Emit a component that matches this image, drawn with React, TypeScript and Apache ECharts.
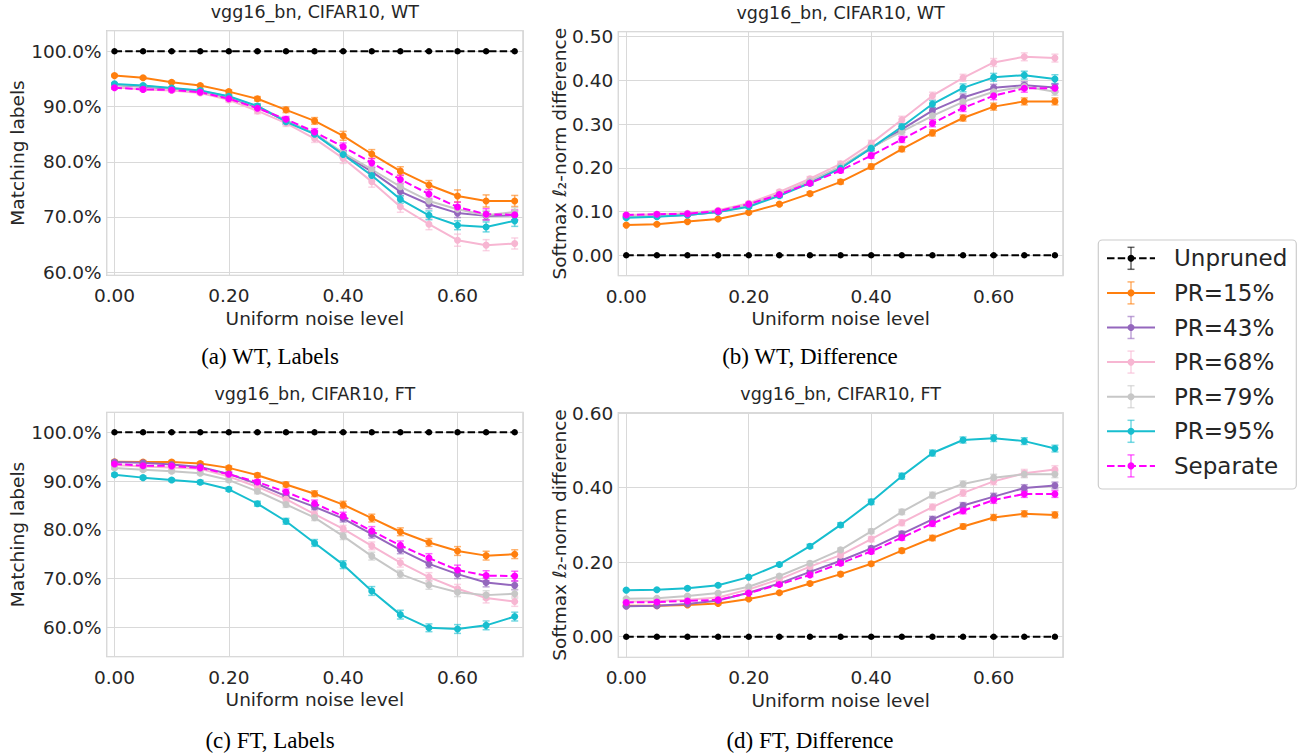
import React, { useEffect, useRef } from 'react';
import * as echarts from 'echarts';

const noiseLevels = [0, 0.05, 0.1, 0.15, 0.2, 0.25, 0.3, 0.35, 0.4, 0.45, 0.5, 0.55, 0.6, 0.65, 0.7];
const seriesNames = ['Unpruned', 'PR=15%', 'PR=43%', 'PR=68%', 'PR=79%', 'PR=95%', 'Separate'];
const seriesColors = ['#000000', '#ff7f0e', '#9467bd', '#f7b6d2', '#c7c7c7', '#17becf', '#ff00ff'];
const seriesDashed = [true, false, false, false, false, false, true];

const zeroErr = [0, 0, 0, 0, 0, 0, 0, 0, 0, 0, 0, 0, 0, 0, 0];

// (a) WT, Labels  (matching labels, %)
const wtLabUnpruned = [100, 100, 100, 100, 100, 100, 100, 100, 100, 100, 100, 100, 100, 100, 100];
const wtLabPR15 = [95.6, 95.2, 94.4, 93.8, 92.7, 91.4, 89.4, 87.4, 84.7, 81.4, 78.3, 75.8, 73.8, 72.9, 72.9];
const wtLabPR43 = [93.9, 93.6, 93.2, 92.75, 91.6, 89.9, 87.4, 85.1, 81.4, 78.2, 74.6, 72.3, 70.7, 70.2, 70.3];
const wtLabPR68 = [93.5, 93.1, 92.9, 92.45, 91.2, 89.2, 87.0, 84.2, 80.6, 76.4, 71.85, 68.7, 65.8, 64.9, 65.2];
const wtLabPR79 = [93.9, 93.7, 93.3, 92.8, 91.8, 90.0, 87.55, 85.1, 81.6, 78.6, 75.5, 72.9, 71.4, 70.3, 70.9];
const wtLabPR95 = [94.1, 93.8, 93.35, 92.9, 91.85, 90.1, 87.25, 85.0, 81.3, 77.5, 73.2, 70.3, 68.5, 68.2, 69.3];
const wtLabSeparate = [93.4, 93.1, 93.0, 92.6, 91.4, 89.7, 87.7, 85.4, 82.7, 79.8, 76.8, 74.15, 71.8, 70.5, 70.4];
const wtLabErrPR15 = [0.2, 0.2, 0.2, 0.2, 0.3, 0.4, 0.5, 0.6, 0.8, 0.8, 0.8, 0.8, 1.1, 1.1, 1.0];
const wtLabErrPR43 = [0.2, 0.2, 0.2, 0.3, 0.3, 0.4, 0.5, 0.5, 0.6, 0.7, 0.8, 0.8, 0.8, 0.8, 0.8];
const wtLabErrPR68 = [0.3, 0.3, 0.3, 0.3, 0.4, 0.5, 0.6, 0.7, 0.9, 1.0, 1.0, 1.0, 1.1, 1.0, 1.0];
const wtLabErrPR79 = [0.2, 0.2, 0.2, 0.3, 0.3, 0.4, 0.5, 0.5, 0.6, 0.7, 0.8, 0.8, 0.8, 0.8, 0.8];
const wtLabErrPR95 = [0.2, 0.2, 0.2, 0.3, 0.3, 0.4, 0.5, 0.5, 0.6, 0.7, 0.7, 0.8, 0.8, 0.9, 1.0];
const wtLabErrSeparate = [0.2, 0.2, 0.3, 0.3, 0.3, 0.4, 0.5, 0.6, 0.7, 0.8, 0.8, 0.8, 0.9, 1.0, 0.9];

// (b) WT, Difference (softmax l2-norm difference)
const wtDiffUnpruned = [0, 0, 0, 0, 0, 0, 0, 0, 0, 0, 0, 0, 0, 0, 0];
const wtDiffPR15 = [0.069, 0.071, 0.077, 0.083, 0.098, 0.117, 0.141, 0.168, 0.203, 0.243, 0.280, 0.314, 0.340, 0.352, 0.352];
const wtDiffPR43 = [0.088, 0.089, 0.092, 0.099, 0.113, 0.139, 0.167, 0.200, 0.245, 0.288, 0.331, 0.361, 0.383, 0.389, 0.384];
const wtDiffPR68 = [0.092, 0.094, 0.096, 0.103, 0.119, 0.145, 0.175, 0.209, 0.256, 0.310, 0.365, 0.406, 0.441, 0.454, 0.451];
const wtDiffPR79 = [0.088, 0.090, 0.093, 0.100, 0.115, 0.140, 0.170, 0.203, 0.247, 0.283, 0.319, 0.351, 0.374, 0.386, 0.374];
const wtDiffPR95 = [0.086, 0.088, 0.092, 0.099, 0.111, 0.136, 0.165, 0.199, 0.245, 0.294, 0.346, 0.383, 0.407, 0.412, 0.403];
const wtDiffSeparate = [0.092, 0.094, 0.095, 0.101, 0.117, 0.139, 0.165, 0.194, 0.228, 0.265, 0.302, 0.337, 0.365, 0.382, 0.382];
const wtDiffErrPR15 = [0.002, 0.002, 0.002, 0.002, 0.003, 0.003, 0.004, 0.005, 0.006, 0.006, 0.007, 0.007, 0.008, 0.008, 0.008];
const wtDiffErrPR43 = [0.002, 0.002, 0.002, 0.003, 0.003, 0.004, 0.004, 0.005, 0.006, 0.007, 0.007, 0.008, 0.008, 0.008, 0.008];
const wtDiffErrPR68 = [0.003, 0.003, 0.003, 0.003, 0.004, 0.004, 0.005, 0.006, 0.007, 0.008, 0.008, 0.008, 0.009, 0.009, 0.009];
const wtDiffErrPR79 = [0.002, 0.002, 0.002, 0.003, 0.003, 0.004, 0.004, 0.005, 0.006, 0.007, 0.007, 0.008, 0.008, 0.008, 0.008];
const wtDiffErrPR95 = [0.002, 0.002, 0.002, 0.003, 0.003, 0.004, 0.005, 0.005, 0.006, 0.007, 0.008, 0.009, 0.009, 0.009, 0.010];
const wtDiffErrSeparate = [0.002, 0.002, 0.003, 0.003, 0.003, 0.004, 0.004, 0.005, 0.006, 0.007, 0.008, 0.008, 0.009, 0.009, 0.009];

// (c) FT, Labels (matching labels, %)
const ftLabUnpruned = [100, 100, 100, 100, 100, 100, 100, 100, 100, 100, 100, 100, 100, 100, 100];
const ftLabPR15 = [93.95, 93.9, 93.9, 93.6, 92.7, 91.2, 89.3, 87.4, 85.15, 82.4, 79.6, 77.4, 75.65, 74.7, 75.0];
const ftLabPR43 = [93.9, 93.75, 93.4, 92.9, 91.45, 89.4, 86.9, 84.7, 82.3, 79.1, 75.9, 73.0, 70.9, 69.2, 68.6];
const ftLabPR68 = [93.3, 93.0, 92.8, 92.5, 90.9, 88.8, 86.3, 83.2, 80.2, 76.7, 73.25, 70.3, 67.9, 66.0, 65.3];
const ftLabPR79 = [92.7, 92.3, 92.0, 91.6, 90.2, 87.9, 85.2, 82.5, 78.7, 74.6, 70.9, 68.7, 67.2, 66.6, 66.9];
const ftLabPR95 = [91.3, 90.7, 90.2, 89.75, 88.3, 85.35, 81.75, 77.3, 72.85, 67.45, 62.6, 59.9, 59.65, 60.4, 62.2];
const ftLabSeparate = [93.5, 93.15, 93.1, 92.7, 91.4, 89.8, 87.75, 85.4, 82.8, 79.75, 76.8, 74.2, 71.75, 70.6, 70.5];
const ftLabErrPR15 = [0.3, 0.3, 0.3, 0.3, 0.4, 0.4, 0.5, 0.6, 0.7, 0.8, 0.8, 0.8, 0.9, 0.9, 0.9];
const ftLabErrPR43 = [0.3, 0.3, 0.3, 0.3, 0.4, 0.5, 0.5, 0.6, 0.7, 0.8, 0.8, 0.8, 0.9, 0.9, 0.9];
const ftLabErrPR68 = [0.3, 0.3, 0.3, 0.3, 0.4, 0.5, 0.6, 0.6, 0.7, 0.8, 0.9, 0.9, 0.9, 1.0, 1.0];
const ftLabErrPR79 = [0.3, 0.3, 0.3, 0.3, 0.4, 0.5, 0.6, 0.6, 0.7, 0.8, 0.8, 0.9, 0.9, 0.9, 0.9];
const ftLabErrPR95 = [0.3, 0.3, 0.3, 0.4, 0.4, 0.5, 0.6, 0.7, 0.8, 0.9, 0.9, 0.8, 0.9, 0.9, 0.9];
const ftLabErrSeparate = [0.3, 0.3, 0.3, 0.4, 0.4, 0.5, 0.6, 0.7, 0.8, 0.9, 0.9, 0.9, 1.0, 1.0, 1.0];

// (d) FT, Difference (softmax l2-norm difference)
const ftDiffUnpruned = [0, 0, 0, 0, 0, 0, 0, 0, 0, 0, 0, 0, 0, 0, 0];
const ftDiffPR15 = [0.083, 0.083, 0.085, 0.089, 0.101, 0.118, 0.143, 0.168, 0.196, 0.231, 0.265, 0.296, 0.320, 0.330, 0.327];
const ftDiffPR43 = [0.082, 0.083, 0.088, 0.097, 0.118, 0.143, 0.174, 0.204, 0.237, 0.276, 0.315, 0.352, 0.376, 0.399, 0.406];
const ftDiffPR68 = [0.094, 0.096, 0.099, 0.105, 0.127, 0.154, 0.188, 0.219, 0.262, 0.306, 0.348, 0.386, 0.417, 0.439, 0.449];
const ftDiffPR79 = [0.102, 0.103, 0.109, 0.117, 0.134, 0.163, 0.197, 0.233, 0.283, 0.335, 0.380, 0.410, 0.427, 0.436, 0.436];
const ftDiffPR95 = [0.125, 0.126, 0.130, 0.138, 0.160, 0.194, 0.243, 0.300, 0.362, 0.431, 0.493, 0.528, 0.533, 0.525, 0.505];
const ftDiffSeparate = [0.092, 0.093, 0.096, 0.099, 0.117, 0.140, 0.166, 0.197, 0.229, 0.266, 0.304, 0.338, 0.367, 0.383, 0.383];
const ftDiffErrPR15 = [0.002, 0.002, 0.002, 0.003, 0.003, 0.003, 0.004, 0.005, 0.005, 0.006, 0.007, 0.007, 0.008, 0.008, 0.008];
const ftDiffErrPR43 = [0.002, 0.002, 0.002, 0.003, 0.003, 0.004, 0.004, 0.005, 0.006, 0.007, 0.008, 0.008, 0.009, 0.009, 0.009];
const ftDiffErrPR68 = [0.003, 0.003, 0.003, 0.003, 0.004, 0.004, 0.005, 0.006, 0.007, 0.008, 0.008, 0.009, 0.009, 0.010, 0.010];
const ftDiffErrPR79 = [0.002, 0.002, 0.003, 0.003, 0.003, 0.004, 0.005, 0.005, 0.006, 0.007, 0.008, 0.008, 0.009, 0.009, 0.009];
const ftDiffErrPR95 = [0.002, 0.002, 0.003, 0.003, 0.003, 0.004, 0.005, 0.006, 0.007, 0.008, 0.008, 0.008, 0.009, 0.009, 0.009];
const ftDiffErrSeparate = [0.002, 0.002, 0.003, 0.003, 0.003, 0.004, 0.005, 0.005, 0.006, 0.007, 0.008, 0.008, 0.009, 0.009, 0.009];

const TEXT = '#262626';
const FONT = 'DejaVu Sans';

const isMult = (v: number, step: number) => Math.abs(v / step - Math.round(v / step)) < 1e-6;
const fmtPct = (v: number) => (isMult(v, 10) ? (Math.abs(v) < 1e-9 ? 0 : v).toFixed(1) + '%' : '');
const fmtStep = (step: number) => (v: number) => (isMult(v, step) ? (Math.abs(v) < 1e-9 ? 0 : v).toFixed(2) : '');

type Panel = {
  title: string;
  caption: string;
  yName: string;
  left: number;
  top: number;
  width: number;
  height: number;
  xMin: number;
  xMax: number;
  yMin: number;
  yMax: number;
  ySplit: number;
  yFmt: (v: number) => string;
  values: number[][];
  errors: number[][];
  captionX: number;
  yNameX: number;
};

const panels: Panel[] = [
  {
    title: 'vgg16_bn, CIFAR10, WT', caption: '(a) WT, Labels', yName: 'Matching labels',
    left: 106.7, top: 30.7, width: 416.3, height: 244.6,
    xMin: -0.0136, xMax: 0.7145, yMin: 59.44, yMax: 103.73, ySplit: 5, yFmt: fmtPct,
    values: [wtLabUnpruned, wtLabPR15, wtLabPR43, wtLabPR68, wtLabPR79, wtLabPR95, wtLabSeparate],
    errors: [zeroErr, wtLabErrPR15, wtLabErrPR43, wtLabErrPR68, wtLabErrPR79, wtLabErrPR95, wtLabErrSeparate],
    captionX: 270, yNameX: 17.5,
  },
  {
    title: 'vgg16_bn, CIFAR10, WT', caption: '(b) WT, Difference', yName: 'Softmax ℓ₂-norm difference',
    left: 618.3, top: 31.7, width: 444.7, height: 244,
    xMin: -0.013, xMax: 0.7132, yMin: -0.0467, yMax: 0.5114, ySplit: 5, yFmt: fmtStep(0.1),
    values: [wtDiffUnpruned, wtDiffPR15, wtDiffPR43, wtDiffPR68, wtDiffPR79, wtDiffPR95, wtDiffSeparate],
    errors: [zeroErr, wtDiffErrPR15, wtDiffErrPR43, wtDiffErrPR68, wtDiffErrPR79, wtDiffErrPR95, wtDiffErrSeparate],
    captionX: 810, yNameX: 559,
  },
  {
    title: 'vgg16_bn, CIFAR10, FT', caption: '(c) FT, Labels', yName: 'Matching labels',
    left: 106.7, top: 412.3, width: 416.3, height: 244.4,
    xMin: -0.0136, xMax: 0.7145, yMin: 53.97, yMax: 104.1, ySplit: 5, yFmt: fmtPct,
    values: [ftLabUnpruned, ftLabPR15, ftLabPR43, ftLabPR68, ftLabPR79, ftLabPR95, ftLabSeparate],
    errors: [zeroErr, ftLabErrPR15, ftLabErrPR43, ftLabErrPR68, ftLabErrPR79, ftLabErrPR95, ftLabErrSeparate],
    captionX: 270, yNameX: 17.5,
  },
  {
    title: 'vgg16_bn, CIFAR10, FT', caption: '(d) FT, Difference', yName: 'Softmax ℓ₂-norm difference',
    left: 618.3, top: 412.7, width: 444.7, height: 244.6,
    xMin: -0.013, xMax: 0.7132, yMin: -0.0553, yMax: 0.6013, ySplit: 3, yFmt: fmtStep(0.2),
    values: [ftDiffUnpruned, ftDiffPR15, ftDiffPR43, ftDiffPR68, ftDiffPR79, ftDiffPR95, ftDiffSeparate],
    errors: [zeroErr, ftDiffErrPR15, ftDiffErrPR43, ftDiffErrPR68, ftDiffErrPR79, ftDiffErrPR95, ftDiffErrSeparate],
    captionX: 810, yNameX: 559,
  },
];

function buildOption() {
  const grid = panels.map((p) => ({
    left: p.left, top: p.top, width: p.width, height: p.height,
    show: true, borderColor: '#cccccc', borderWidth: 1.25, backgroundColor: '#ffffff', containLabel: false,
  }));
  const xAxis = panels.map((p, i) => ({
    type: 'value', gridIndex: i, min: p.xMin, max: p.xMax, splitNumber: 4,
    axisLine: { show: false }, axisTick: { show: false },
    splitLine: { show: true, lineStyle: { color: '#d9d9d9', width: 1 } },
    axisLabel: { formatter: fmtStep(0.2), fontSize: 18.5, color: TEXT, fontFamily: FONT, margin: 11 },
    name: 'Uniform noise level', nameLocation: 'middle', nameGap: 33.5,
    nameTextStyle: { fontSize: 18.5, color: TEXT, fontFamily: FONT },
  }));
  const yAxis = panels.map((p, i) => ({
    type: 'value', gridIndex: i, min: p.yMin, max: p.yMax, splitNumber: p.ySplit,
    axisLine: { show: false }, axisTick: { show: false },
    splitLine: { show: true, lineStyle: { color: '#d9d9d9', width: 1 } },
    axisLabel: { formatter: p.yFmt, fontSize: 18.5, color: TEXT, fontFamily: FONT, margin: 5 },
  }));

  const series: any[] = [];
  panels.forEach((p, pi) => {
    p.values.forEach((vals, si) => {
      const color = seriesColors[si];
      const errs = p.errors[si];
      const hasErr = errs.some((e) => e > 0);
      if (hasErr) {
        series.push({
          type: 'custom', xAxisIndex: pi, yAxisIndex: pi, silent: true,
          encode: { x: 0, y: 1 },
          data: noiseLevels.map((x, k) => [x, vals[k], vals[k] - errs[k], vals[k] + errs[k]]),
          renderItem: (params: any, api: any) => {
            const x = api.value(0);
            const lo = api.coord([x, api.value(2)]);
            const hi = api.coord([x, api.value(3)]);
            const cw = 3.5;
            const style = { stroke: color, lineWidth: 1.5, opacity: 0.6 };
            return {
              type: 'group',
              children: [
                { type: 'line', shape: { x1: lo[0], y1: lo[1], x2: hi[0], y2: hi[1] }, style },
                { type: 'line', shape: { x1: lo[0] - cw, y1: lo[1], x2: lo[0] + cw, y2: lo[1] }, style },
                { type: 'line', shape: { x1: hi[0] - cw, y1: hi[1], x2: hi[0] + cw, y2: hi[1] }, style },
              ],
            };
          },
        });
      }
      series.push({
        type: 'line', name: seriesNames[si], xAxisIndex: pi, yAxisIndex: pi, silent: true,
        data: noiseLevels.map((x, k) => [x, vals[k]]),
        symbol: 'circle', symbolSize: si === 0 ? 6.5 : 7, showSymbol: true,
        lineStyle: { color, width: 2, type: seriesDashed[si] ? [7.5, 3.2] : 'solid' },
        itemStyle: { color },
      });
    });
  });

  const graphics: any[] = [];
  panels.forEach((p) => {
    const cx = p.left + p.width / 2;
    const cy = p.top + p.height / 2;
    graphics.push({
      type: 'text', x: cx, y: p.top - 18.7,
      style: { text: p.title, fill: TEXT, font: `17.5px "${FONT}"`, align: 'center', verticalAlign: 'middle' },
    });
    graphics.push({
      type: 'text', x: p.yNameX, y: cy, rotation: Math.PI / 2,
      style: { text: p.yName, fill: TEXT, font: `18.5px "${FONT}"`, align: 'center', verticalAlign: 'middle' },
    });
    graphics.push({
      type: 'text', x: p.captionX, y: p.top < 200 ? 356 : 740,
      style: { text: p.caption, fill: '#000000', font: '23px "Liberation Serif"', align: 'center', verticalAlign: 'middle' },
    });
  });

  // legend
  const lgX = 1098.3, lgY = 240, lgW = 198, lgH = 249;
  graphics.push({
    type: 'rect', shape: { x: lgX, y: lgY, width: lgW, height: lgH, r: 4 },
    style: { fill: 'rgba(255,255,255,0.9)', stroke: '#cccccc', lineWidth: 1.2 },
  });
  seriesNames.forEach((name, i) => {
    const y = 258.3 + i * 34.6;
    const color = seriesColors[i];
    const errStyle = { stroke: color, lineWidth: 1.5, opacity: 0.6 };
    graphics.push({ type: 'line', shape: { x1: 1131, y1: y - 11, x2: 1131, y2: y + 11 }, style: errStyle });
    graphics.push({ type: 'line', shape: { x1: 1127.5, y1: y - 11, x2: 1134.5, y2: y - 11 }, style: errStyle });
    graphics.push({ type: 'line', shape: { x1: 1127.5, y1: y + 11, x2: 1134.5, y2: y + 11 }, style: errStyle });
    graphics.push({
      type: 'line', shape: { x1: 1107, y1: y, x2: 1155, y2: y },
      style: { stroke: color, lineWidth: 2, lineDash: seriesDashed[i] ? [7.5, 3.2] : null },
    });
    graphics.push({ type: 'circle', shape: { cx: 1131, cy: y, r: 3.5 }, style: { fill: color } });
    graphics.push({
      type: 'text', x: 1174, y: y,
      style: { text: name, fill: TEXT, font: `23px "${FONT}"`, align: 'left', verticalAlign: 'middle' },
    });
  });

  return {
    animation: false,
    backgroundColor: '#ffffff',
    grid,
    xAxis,
    yAxis,
    series,
    graphic: graphics,
  };
}

export default function App() {
  const ref = useRef<HTMLDivElement>(null);
  useEffect(() => {
    if (!ref.current) return;
    const chart = echarts.init(ref.current, null, { renderer: 'svg' });
    chart.setOption(buildOption() as any);
    return () => chart.dispose();
  }, []);
  return (
    <div
      ref={ref}
      style={{ position: 'absolute', left: 0, top: 0, width: 1302, height: 755, background: '#fff' }}
    />
  );
}
